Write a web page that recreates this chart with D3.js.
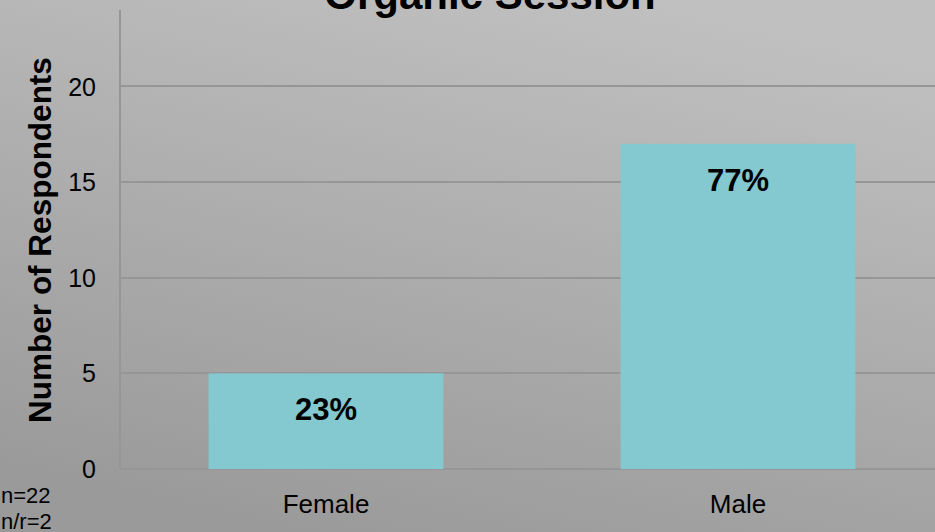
<!DOCTYPE html>
<html>
    <head>
        <script src="https://d3js.org/d3.v7.min.js" charset="utf-8"></script>
        <style>
            body { margin: 0; }
            svg { display: block; font-family: "Liberation Sans", Arial, sans-serif; }
        </style>
    </head>
    <body>
        <svg id="chart" width="935" height="532"></svg>
    </body>
    <script>
        var categories = ["Female", "Male"];
        var counts = [5, 17];
        var percentLabels = ["23%", "77%"];
        var yTicks = [0, 5, 10, 15, 20];
        var notes = ["n=22", "n/r=2"];

        var svg = d3.select('#chart'),
            width = +svg.attr('width'),
            height = +svg.attr('height');

        // background gradient, light top-right to darker bottom-left
        var grad = svg.append('defs').append('linearGradient')
            .attr('id', 'bg')
            .attr('x1', '0.7').attr('y1', '0')
            .attr('x2', '0.3').attr('y2', '1');
        grad.append('stop').attr('offset', '0').attr('stop-color', '#c0c0c0');
        grad.append('stop').attr('offset', '1').attr('stop-color', '#9a9a9a');
        svg.append('rect').attr('width', width).attr('height', height).attr('fill', 'url(#bg)');

        // note: "top" is taken by window.top, so use other names
        var plotLeft = 120, plotTop = 10, plotBottom = 469;

        var y = d3.scaleLinear().domain([0, 24]).range([plotBottom, plotTop]);
        var x = d3.scaleBand().domain(categories).range([plotLeft, 944])
            .paddingInner(0.43).paddingOuter(0.215);

        // gridlines
        svg.append('g').selectAll('line').data(yTicks).join('line')
            .attr('x1', plotLeft).attr('x2', width)
            .attr('y1', d => Math.round(y(d))).attr('y2', d => Math.round(y(d)))
            .attr('stroke', '#969696').attr('stroke-width', 2);

        // y axis line
        svg.append('line')
            .attr('x1', plotLeft).attr('x2', plotLeft)
            .attr('y1', plotTop).attr('y2', plotBottom)
            .attr('stroke', '#969696').attr('stroke-width', 2);

        // tick labels
        svg.append('g').selectAll('text').data(yTicks).join('text')
            .attr('x', 96).attr('y', d => y(d) + 9)
            .attr('text-anchor', 'end')
            .attr('font-size', 25)
            .attr('fill', '#000')
            .text(d => d);

        // bars
        svg.append('g').selectAll('rect').data(counts).join('rect')
            .attr('x', (d, i) => x(categories[i]))
            .attr('width', x.bandwidth())
            .attr('y', d => y(d))
            .attr('height', d => y(0) - y(d))
            .attr('fill', '#83c9cf');

        // percentage labels
        svg.append('g').selectAll('text').data(counts).join('text')
            .attr('x', (d, i) => x(categories[i]) + x.bandwidth() / 2)
            .attr('y', d => y(d) + 47)
            .attr('text-anchor', 'middle')
            .attr('font-size', 31).attr('font-weight', 'bold')
            .text((d, i) => percentLabels[i]);

        // category labels
        svg.append('g').selectAll('text').data(categories).join('text')
            .attr('x', d => x(d) + x.bandwidth() / 2)
            .attr('y', 513)
            .attr('text-anchor', 'middle')
            .attr('font-size', 26)
            .text(d => d);

        // axis title
        svg.append('text')
            .attr('transform', 'translate(51,240) rotate(-90)')
            .attr('text-anchor', 'middle')
            .attr('font-size', 31.5).attr('font-weight', 'bold')
            .text('Number of Respondents');

        // chart title, partly cut off at the top
        svg.append('text')
            .attr('x', 490).attr('y', 9)
            .attr('text-anchor', 'middle')
            .attr('font-size', 42).attr('font-weight', 'bold')
            .text('Organic Session');

        // sample notes
        svg.append('g').selectAll('text').data(notes).join('text')
            .attr('x', 1).attr('y', (d, i) => 503 + i * 26)
            .attr('font-size', 22)
            .text(d => d);
    </script>
</html>
